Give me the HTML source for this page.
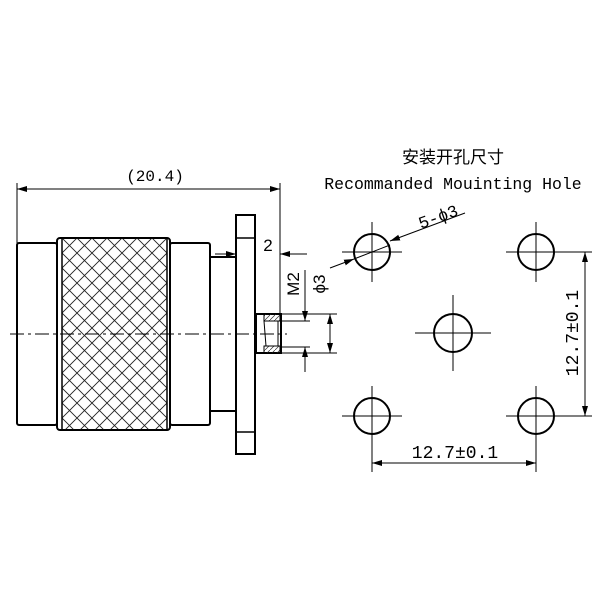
<!DOCTYPE html>
<html><head><meta charset="utf-8"><style>html,body{margin:0;padding:0;background:#fff}svg{display:block}</style></head>
<body>
<svg width="600" height="600" viewBox="0 0 600 600" xmlns="http://www.w3.org/2000/svg">
<defs>
<pattern id="kn" width="15" height="15" patternUnits="userSpaceOnUse" x="62" y="238">
<path d="M0 0L15 15M15 0L0 15" stroke="#222" stroke-width="0.9"/>
</pattern>
<pattern id="ht" width="5" height="5" patternUnits="userSpaceOnUse">
<path d="M0 5L5 0" stroke="#333" stroke-width="0.7"/>
</pattern>
<marker id="a" markerWidth="10" markerHeight="6" refX="10" refY="3" orient="auto" markerUnits="userSpaceOnUse">
<path d="M0 0L10 3L0 6z" fill="#000"/>
</marker>
</defs>
<g fill="none" stroke="#000" stroke-width="2">
<rect x="17" y="243" width="40" height="182" rx="2"/>
<rect x="57" y="238" width="113" height="192" rx="3" fill="#fff"/>
<rect x="62" y="238" width="105" height="192" fill="url(#kn)" stroke-width="1.5"/>
<rect x="170" y="243" width="40" height="182" rx="2"/>
<path d="M210 257H236M210 411H236"/>
<rect x="236" y="215" width="19" height="239"/>
<path d="M236 238H255M236 432H255" stroke-width="1.5"/>
<rect x="256" y="314" width="25" height="39"/>
<rect x="264" y="314" width="16" height="7" fill="url(#ht)" stroke-width="1"/>
<rect x="264" y="346" width="16" height="7" fill="url(#ht)" stroke-width="1"/>
<path d="M264 321L266 346M278 321V346" stroke-width="1"/>
</g>
<g stroke="#000" stroke-width="1" fill="none">
<path d="M10 334H287" stroke-dasharray="14,4,3,4"/>
<path d="M17 183V243M280 183V314"/>
<path d="M148 189H17" marker-end="url(#a)"/><path d="M148 189H280" marker-end="url(#a)"/>
<path d="M215 254H236" marker-end="url(#a)"/><path d="M307 254H280" marker-end="url(#a)"/>
<path d="M281 321H310M281 347H310M281 314H337M281 353H337"/>
<path d="M305 270V321" marker-end="url(#a)"/><path d="M305 372V347" marker-end="url(#a)"/>
<path d="M330 334V314" marker-end="url(#a)"/><path d="M330 334V353" marker-end="url(#a)"/>
<g stroke-width="2">
<circle cx="372" cy="252" r="18"/><circle cx="536" cy="252" r="18"/>
<circle cx="453" cy="333" r="19"/>
<circle cx="372" cy="416" r="18"/><circle cx="536" cy="416" r="18"/>
</g>
<path d="M342 252H402M372 222V282M506 252H566M536 222V282M415 333H491M453 295V371M342 416H402M372 386V446M506 416H566M536 386V446"/>
<path d="M330 268L354 259" marker-end="url(#a)"/><path d="M465 213L390 241" marker-end="url(#a)"/><path d="M354 259L390 245"/>
<path d="M554 252H592M554 416H592"/>
<path d="M585 333V252" marker-end="url(#a)"/><path d="M585 333V416" marker-end="url(#a)"/>
<path d="M372 434V472M536 434V472"/>
<path d="M453 463H372" marker-end="url(#a)"/><path d="M453 463H536" marker-end="url(#a)"/>
</g>
<g font-family="'Liberation Mono','DejaVu Sans Mono',monospace" font-size="16" fill="#000">
<text x="155" y="181" text-anchor="middle">(20.4)</text>
<text x="268" y="251" text-anchor="middle" font-family="'Liberation Sans',sans-serif" font-size="17">2</text>
<text transform="translate(299,284) rotate(-90)" text-anchor="middle" font-family="'Liberation Sans',sans-serif" font-size="17">M2</text>
<text transform="translate(325,284) rotate(-90)" text-anchor="middle" font-family="'Liberation Sans',sans-serif" font-size="17">ϕ3</text>
<text transform="translate(440,222) rotate(-20)" text-anchor="middle" font-size="17">5-ϕ3</text>
<text x="453" y="163" text-anchor="middle" font-family="'Liberation Sans','Noto Sans CJK SC',sans-serif" font-size="17">安装开孔尺寸</text>
<text x="453" y="189" text-anchor="middle" font-size="16.5">Recommanded Mouinting Hole</text>
<text x="455" y="458" text-anchor="middle" font-size="18">12.7±0.1</text>
<text transform="translate(578,333) rotate(-90)" text-anchor="middle" font-size="18">12.7±0.1</text>
</g>
</svg>
</body></html>
